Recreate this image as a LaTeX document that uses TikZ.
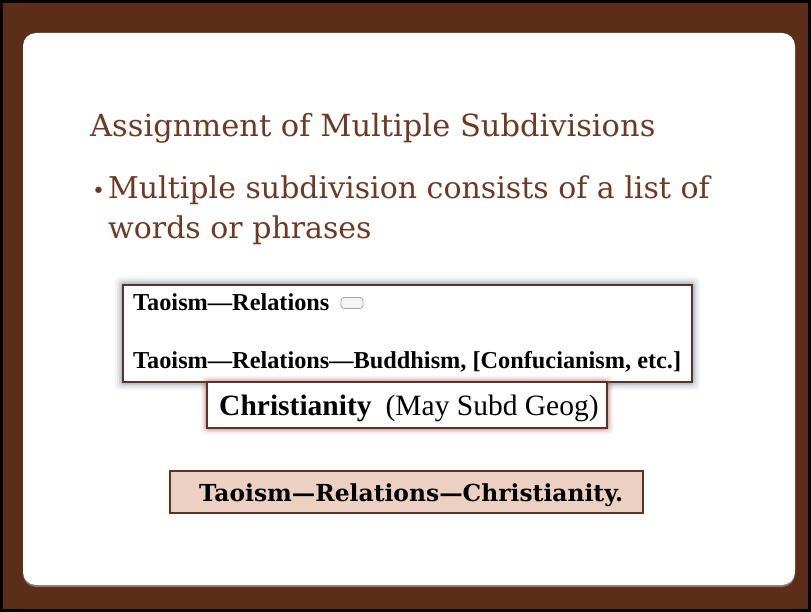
\documentclass[tikz,border=0pt]{standalone}
\usepackage{fontspec}
\setmainfont{Liberation Serif}
\newfontfamily\slidefont{DejaVu Serif}
\newfontfamily\boxfont{Liberation Serif}
\usetikzlibrary{calc}
\definecolor{woodbrown}{RGB}{92,46,26}
\definecolor{titlebrown}{RGB}{110,58,36}
\definecolor{boxedge}{RGB}{95,50,35}
\definecolor{redglow}{RGB}{170,70,70}
\definecolor{blueglow}{RGB}{110,130,150}
\definecolor{pinkfill}{RGB}{236,208,194}
\tikzset{
  slidetext/.style={anchor=base west, text=titlebrown, inner sep=0pt},
  boxtext/.style={anchor=base west, inner sep=0pt, text=black},
  panel/.style={fill=white, rounded corners=13pt},
}
\begin{document}
\begin{tikzpicture}[x=1pt,y=-1pt]
\useasboundingbox (0,0) rectangle (811,612);
% frame
\fill[woodbrown] (0,0) rectangle (811,612);
\draw[black, line width=3pt] (1.5,1.5) rectangle (809.5,610.5);
\fill[black!35, rounded corners=13pt, opacity=0.6] (23,35) rectangle (795,587);
\fill[panel] (23,33) rectangle (795,585);
% title
\node[slidetext, font=\slidefont\fontsize{30.5}{36}\selectfont] (title) at (90,137) {Assignment of Multiple Subdivisions};
\node[slidetext, font=\slidefont\fontsize{30}{36}\selectfont] (b1) at (92,199) {{\fontsize{22}{26}\selectfont\textbullet}\kern3pt Multiple subdivision consists of a list of};
\node[slidetext, font=\slidefont\fontsize{30}{36}\selectfont] (b2) at (108,239) {words or phrases};
% box 1 with blue glow
\foreach \g/\o in {8/0.08,6/0.11,4/0.16,2.5/0.24,1.2/0.32}{
  \fill[blueglow, opacity=\o, rounded corners=4pt] (123-\g,285-\g) rectangle (692+\g,382+\g);
}
\node[draw=boxedge, line width=1.6pt, fill=white, minimum width=569pt, minimum height=97pt, inner sep=0pt] (box1) at (407.5,333.5) {};
\node[boxtext, font=\boxfont\bfseries\fontsize{24.3}{28}\selectfont] (l1) at (133,311) {Taoism—Relations};
\node[draw=gray!70, fill=gray!8, rounded corners=3pt, minimum width=22pt, minimum height=11pt, inner sep=0pt, line width=0.8pt] (icon) at (352,303) {};
\node[boxtext, font=\boxfont\bfseries\fontsize{24.3}{28}\selectfont] (l2) at (133,368) {Taoism—Relations—Buddhism, [Confucianism, etc.]};
% box 2 with red glow
\foreach \g/\o in {6/0.08,4/0.13,2.5/0.2,1.2/0.3}{
  \fill[redglow, opacity=\o, rounded corners=4pt] (207-\g,382-\g) rectangle (607+\g,428+\g);
}
\node[draw=boxedge, line width=1.4pt, fill=white, minimum width=400pt, minimum height=46pt, inner sep=0pt] (box2) at (407,405) {};
\node[boxtext, font=\boxfont\fontsize{29.5}{34}\selectfont] (l3) at (219,415) {\textbf{Christianity}\hspace{14pt}(May Subd Geog)};
% box 3
\node[draw=boxedge, line width=1.2pt, fill=pinkfill, minimum width=473pt, minimum height=42pt, inner sep=0pt] (box3) at (406.5,492) {};
\node[boxtext, font=\slidefont\bfseries\fontsize{23.4}{28}\selectfont] (l4) at (199,501) {Taoism—Relations—Christianity.};
\end{tikzpicture}
\end{document}
